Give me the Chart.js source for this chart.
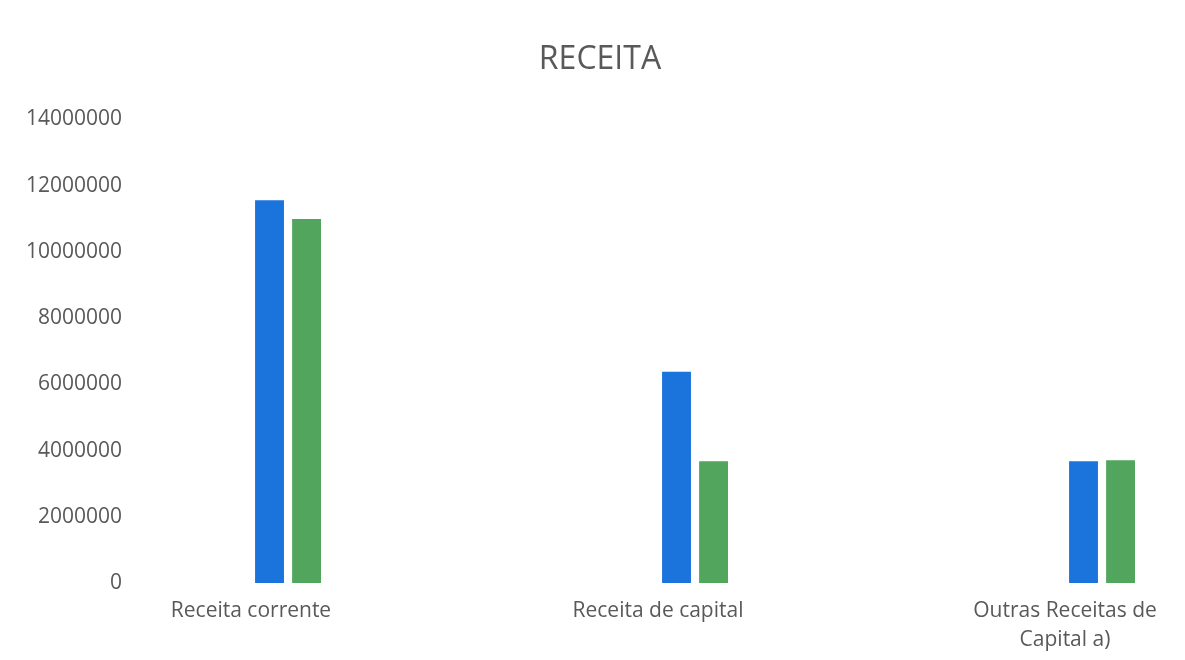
<!DOCTYPE html>
<html lang="pt">
<head>
    <meta charset="UTF-8">
    <title>Receita</title>
    <script src="https://cdn.jsdelivr.net/npm/chart.js"></script>
    <style>
        body {
            margin: 0;
            padding: 0;
            background: #ffffff;
        }

        .chart-container {
            width: 1185px;
            height: 660px;
        }
    </style>
</head>
<body>
    <div class="chart-container">
        <canvas id="receitaChart"></canvas>
    </div>

    <script>
        const categorias = ['Receita corrente', 'Receita de capital', ['Outras Receitas de', 'Capital a)']];
        const serieAzul = [11560000, 6380000, 3680000];
        const serieVerde = [10990000, 3680000, 3710000];
        const serieVazia = [null, null, null]; // two empty series sit left of the plotted ones
        const yMin = 0;
        const yMax = 14000000;
        const yPasso = 2000000;

        const textColor = '#595959';
        const fontFamily = '"Open Sans", "Noto Sans", sans-serif';

        // blank axis: only takes up width, draws nothing
        const eixoVazio = (position, width) => ({
            position,
            min: yMin,
            max: yMax,
            grid: { display: false },
            border: { display: false },
            ticks: { display: false },
            afterFit: scale => { scale.width = width; }
        });

        const ctx = document.getElementById('receitaChart').getContext('2d');

        new Chart(ctx, {
            type: 'bar',
            data: {
                labels: categorias,
                datasets: [
                    { label: 'S1', data: serieVazia },
                    { label: 'S2', data: serieVazia },
                    { label: 'S3', data: serieAzul, backgroundColor: '#1b73dc' },
                    { label: 'S4', data: serieVerde, backgroundColor: '#52a55c' }
                ].map(d => ({ ...d, categoryPercentage: 0.364, barPercentage: 0.78, clip: false }))
            },
            options: {
                responsive: true,
                maintainAspectRatio: false,
                animation: false,
                layout: {
                    padding: { left: 20, right: 5, top: 0, bottom: 0 }
                },
                plugins: {
                    legend: { display: false },
                    tooltip: { enabled: false },
                    title: {
                        display: true,
                        text: 'RECEITA',
                        color: textColor,
                        font: { family: fontFamily, size: 32, weight: 'normal' },
                        padding: { top: 41, bottom: 40 }
                    }
                },
                scales: {
                    x: {
                        offset: false,
                        grid: { display: false, drawTicks: false },
                        border: { display: false },
                        ticks: {
                            color: textColor,
                            font: { family: fontFamily, size: 21, lineHeight: 1.4 },
                            padding: 13,
                            maxRotation: 0,
                            autoSkip: false
                        },
                        afterFit: scale => { scale.height = 77; }
                    },
                    y: {
                        weight: 1,
                        min: yMin,
                        max: yMax,
                        grid: { display: false, drawTicks: false },
                        border: { display: false },
                        ticks: {
                            stepSize: yPasso,
                            color: textColor,
                            font: { family: fontFamily, size: 21 },
                            padding: 3,
                            callback: v => String(v)
                        },
                        afterFit: scale => { scale.width = 105; }
                    },
                    // gap between the value labels and the first category
                    yEsq: eixoVazio('left', 126),
                    // room for the last bar group on the right
                    yDir: eixoVazio('right', 115)
                }
            }
        });
    </script>
</body>
</html>
